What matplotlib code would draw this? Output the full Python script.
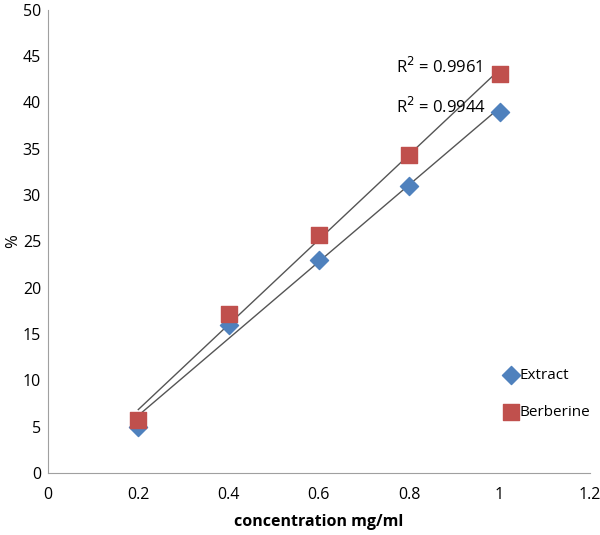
import matplotlib
matplotlib.use('Agg')
import matplotlib.pyplot as plt
import numpy as np

plt.rcParams['font.family'] = ['Open Sans', 'DejaVu Sans']

# data
conc = [0.2, 0.4, 0.6, 0.8, 1.0]
extract = [5.0, 16.0, 23.0, 31.0, 39.0]
berberine = [5.7, 17.2, 25.7, 34.3, 43.0]
xticks = [0, 0.2, 0.4, 0.6, 0.8, 1, 1.2]
xticklabels = ['0', '0.2', '0.4', '0.6', '0.8', '1', '1.2']
yticks = list(range(0, 55, 5))


def linfit(x, y):
    x = np.array(x)
    y = np.array(y)
    slope, icpt = np.polyfit(x, y, 1)
    pred = slope * x + icpt
    r2 = 1 - np.sum((y - pred) ** 2) / np.sum((y - y.mean()) ** 2)
    return slope, icpt, r2


fig = plt.figure(figsize=(6, 5.35), dpi=100)
ax = fig.add_axes([0.08, 0.116, 0.903, 0.866])

x = np.array(conc)
for ys in (extract, berberine):
    s, b, r2 = linfit(conc, ys)
    ax.plot(x, s * x + b, color='#555555', lw=1.0, zorder=2)

ax.scatter(conc, extract, marker='D', s=85, color='#4F81BD', label='Extract', zorder=3)
ax.scatter(conc, berberine, marker='s', s=120, color='#C0504D', label='Berberine', zorder=3)

r2_b = linfit(conc, berberine)[2]
r2_e = linfit(conc, extract)[2]
ax.text(0.77, 43.8, 'R$^2$ = %.4f' % r2_b, fontsize=12, va='center')
ax.text(0.77, 39.5, 'R$^2$ = %.4f' % r2_e, fontsize=12, va='center')

ax.set_xlim(0, 1.2)
ax.set_ylim(0, 50)
ax.set_xticks(xticks)
ax.set_xticklabels(xticklabels)
ax.set_yticks(yticks)
ax.tick_params(length=0, labelsize=11.5)
ax.tick_params(axis='y', pad=5)
ax.tick_params(axis='x', pad=10)
for side in ('top', 'right'):
    ax.spines[side].set_visible(False)
for side in ('left', 'bottom'):
    ax.spines[side].set_color('#A0A0A0')

ax.set_xlabel('concentration mg/ml', fontsize=11.5, fontweight='bold', labelpad=8)
ax.set_ylabel('%', fontsize=12, labelpad=1)

ax.legend(loc='center left', bbox_to_anchor=(0.82, 0.17), frameon=False,
          fontsize=11, handletextpad=0.1, labelspacing=1.4, handlelength=1.0,
          borderpad=0.2)

fig.savefig('out.png')
